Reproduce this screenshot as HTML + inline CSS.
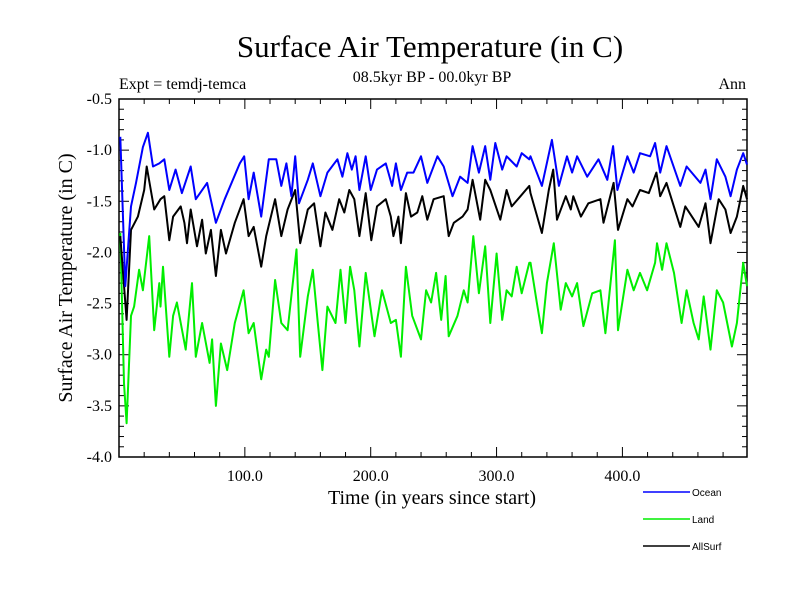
<!DOCTYPE html>
<html><head><meta charset="utf-8"><style>
body{margin:0;background:#fff}
svg{display:block;font-family:"Liberation Serif",serif}
</style></head><body>
<svg id="chart" width="800" height="600" xmlns="http://www.w3.org/2000/svg">
<text x="430" y="57" font-size="31" text-anchor="middle">Surface Air Temperature (in C)</text>
<text x="432" y="82" font-size="16" text-anchor="middle">08.5kyr BP - 00.0kyr BP</text>
<text x="119" y="89" font-size="16">Expt = temdj-temca</text>
<text x="746" y="89" font-size="16" text-anchor="end">Ann</text>
<text transform="translate(72,278) rotate(-90)" font-size="20" text-anchor="middle">Surface Air Temperature (in C)</text>
<text x="432" y="504" font-size="20" text-anchor="middle">Time (in years since start)</text>
<g id="axes"></g>
<g id="series"></g>
<g id="legend"></g>
</svg>
<script>
const oceanYears=[1,5,9.5,13.5,19,23,27,32,36,40,45,50,57,61,70,77,84,96,99.5,103,107,113,119,125,129,133,137,140,143,150,154,160,165.6,173.5,177.5,181.5,185,188,191,196,200,205,212,217,220,224,229,234,240,245,253,258,265,271,277,281,286,291,295,299,304.5,308,316,320,326,327,336,344,349.5,356,360,364,372,381,388,392.6,396,404,409,414,422,426,430,435,446,451,462,466,470,475,481.8,486,491,496,499];
const oceanValues=[-0.87,-2.33,-1.55,-1.32,-0.97,-0.83,-1.16,-1.13,-1.09,-1.39,-1.19,-1.42,-1.16,-1.48,-1.32,-1.71,-1.48,-1.13,-1.06,-1.48,-1.22,-1.65,-1.09,-1.09,-1.35,-1.13,-1.45,-1.06,-1.52,-1.29,-1.13,-1.45,-1.22,-1.09,-1.26,-1.03,-1.19,-1.06,-1.39,-1.06,-1.39,-1.19,-1.13,-1.35,-1.13,-1.39,-1.22,-1.22,-1.06,-1.32,-1.06,-1.16,-1.45,-1.26,-1.32,-0.96,-1.22,-0.96,-1.29,-0.93,-1.19,-1.06,-1.16,-1.03,-1.09,-1.06,-1.35,-0.90,-1.35,-1.06,-1.22,-1.06,-1.26,-1.09,-1.29,-0.96,-1.39,-1.06,-1.22,-1.03,-1.06,-0.93,-1.22,-0.96,-1.35,-1.16,-1.32,-1.19,-1.48,-1.09,-1.26,-1.45,-1.19,-1.03,-1.14];
const allYears=[1,6,9.5,15,20,22,28,33,36,40,43,49,52,54,57,62,66,69,73,77,81,85,92,99,103,107,113,117,124,129,134,140,144,150,155,160,164,169.6,175,179,183,187,191,196,200.5,205,212,216,218,222,224,228,232,237,241,245,250,258,262,266,273,277,281,287,291,295,303,308,312,319,326,327,336,341.5,345,348,355,359,361,367,373,382.5,385,393,396.5,404,408,414,421,427,430,435,446,450,460.6,466,470,476.5,481.8,486,491,496,499];
const allValues=[-1.84,-2.66,-1.78,-1.65,-1.39,-1.16,-1.58,-1.48,-1.45,-1.88,-1.65,-1.55,-1.71,-1.91,-1.58,-1.94,-1.68,-2.01,-1.78,-2.23,-1.78,-2.01,-1.71,-1.48,-1.84,-1.75,-2.14,-1.84,-1.48,-1.84,-1.58,-1.39,-1.91,-1.58,-1.52,-1.94,-1.61,-1.78,-1.48,-1.61,-1.39,-1.48,-1.84,-1.42,-1.88,-1.55,-1.48,-1.65,-1.84,-1.65,-1.91,-1.42,-1.65,-1.61,-1.45,-1.68,-1.48,-1.45,-1.84,-1.71,-1.65,-1.58,-1.29,-1.68,-1.29,-1.39,-1.68,-1.39,-1.55,-1.45,-1.35,-1.42,-1.81,-1.39,-1.19,-1.68,-1.45,-1.58,-1.45,-1.65,-1.52,-1.48,-1.71,-1.32,-1.78,-1.48,-1.55,-1.39,-1.42,-1.22,-1.45,-1.32,-1.75,-1.55,-1.75,-1.52,-1.91,-1.48,-1.58,-1.81,-1.65,-1.35,-1.48];
const landYears=[1,4,6,9.5,12,16,19,24,28,32,33,35,40,43,46,53,58,61,66,72,74,77,81,86,92,99,103,107,113,117,119,124,129,134,141,144,150,154,158,161.6,165.6,172,176,180,183.6,187,191,196,203,209,216,220,224,228,233,240,244,248,252,256,259.5,262,269,274,277,281.5,286,291,295,300,304.5,308,312,316,320,326,327,332,336,340,345.5,351,355,360,364,369,376,382.5,386.5,394,396.5,404,409,414,419.6,426,427.5,431.5,435,441,447,451,456.6,460.6,464.6,470,475,480,487,491,496,499];
const landValues=[-1.81,-3.28,-3.67,-2.62,-2.53,-2.17,-2.37,-1.84,-2.76,-2.30,-2.53,-2.14,-3.02,-2.62,-2.49,-2.95,-2.30,-3.02,-2.69,-3.08,-2.85,-3.50,-2.89,-3.15,-2.69,-2.37,-2.79,-2.69,-3.24,-2.95,-3.02,-2.27,-2.69,-2.76,-1.97,-3.02,-2.43,-2.17,-2.69,-3.15,-2.53,-2.69,-2.17,-2.69,-2.14,-2.37,-2.92,-2.20,-2.82,-2.37,-2.69,-2.66,-3.02,-2.14,-2.62,-2.85,-2.37,-2.49,-2.20,-2.66,-2.23,-2.82,-2.62,-2.37,-2.49,-1.84,-2.40,-1.94,-2.69,-2.01,-2.66,-2.37,-2.43,-2.14,-2.40,-2.10,-2.10,-2.49,-2.79,-2.30,-1.91,-2.56,-2.30,-2.43,-2.30,-2.72,-2.40,-2.37,-2.79,-1.88,-2.76,-2.17,-2.37,-2.20,-2.37,-2.10,-1.91,-2.17,-1.91,-2.20,-2.69,-2.37,-2.69,-2.85,-2.43,-2.95,-2.37,-2.49,-2.92,-2.69,-2.10,-2.33];
const xTickValues=[100,200,300,400];
const xTickLabels=["100.0","200.0","300.0","400.0"];
const yTickValues=[-0.5,-1.0,-1.5,-2.0,-2.5,-3.0,-3.5,-4.0];
const yTickLabels=["-0.5","-1.0","-1.5","-2.0","-2.5","-3.0","-3.5","-4.0"];

const L=119,R=747,T=99,B=457,X0=0,X1=499,Y0=-4.0,Y1=-0.5;
const NS="http://www.w3.org/2000/svg";
function xs(v){return L+(v-X0)/(X1-X0)*(R-L);}
function ys(v){return B-(v-Y0)/(Y1-Y0)*(B-T);}
function mk(tag,attrs,parent){const e=document.createElementNS(NS,tag);for(const k in attrs)e.setAttribute(k,attrs[k]);parent.appendChild(e);return e;}
const axes=document.getElementById('axes');
const frame=mk('rect',{x:L,y:T,width:R-L,height:B-T,fill:'none',stroke:'#000','stroke-width':1.5},axes);


for(let v=20;v<X1;v+=20){
  const major=v%100===0, len=major?10:5;
  const t1=mk('line',{x1:xs(v),x2:xs(v),y1:B,y2:B-len,stroke:'#000'},axes);
  
  
  const t2=mk('line',{x1:xs(v),x2:xs(v),y1:T,y2:T+len,stroke:'#000'},axes);
  
  
}
xTickValues.forEach((v,i)=>{
  const t=mk('text',{x:xs(v),y:B+24,'font-size':16,'text-anchor':'middle'},axes);
  t.textContent=xTickLabels[i];
  
  
});
for(let k=-40;k<=-5;k++){
  const v=k/10, major=(k%5===0), len=major?10:5;
  const t1=mk('line',{x1:L,x2:L+len,y1:ys(v),y2:ys(v),stroke:'#000'},axes);
  
  
  const t2=mk('line',{x1:R,x2:R-len,y1:ys(v),y2:ys(v),stroke:'#000'},axes);
  
  
}
yTickValues.forEach((v,i)=>{
  const t=mk('text',{x:L-7,y:ys(v)+5,'font-size':16,'text-anchor':'end'},axes);
  t.textContent=yTickLabels[i];
  
  
});
const series=document.getElementById('series');
function draw(xsArr,vals,color,name){
  const d=xsArr.map((x,i)=>(i?'L':'M')+xs(x).toFixed(1)+','+ys(vals[i]).toFixed(1)).join('');
  const p=mk('path',{d:d,fill:'none',stroke:color,'stroke-width':2,'stroke-linejoin':'round'},series);
  
  
}
draw(landYears,landValues,'#00ee00','land-line');
draw(allYears,allValues,'#000000','allsurf-line');
draw(oceanYears,oceanValues,'#0000ff','ocean-line');
const legend=document.getElementById('legend');
[['Ocean','#0000ff',492],['Land','#00ee00',519],['AllSurf','#000000',546]].forEach(e=>{
  const l=mk('line',{x1:643,x2:690,y1:e[2],y2:e[2],stroke:e[1],'stroke-width':1.5},legend);
  
  
  const t=mk('text',{x:692,y:e[2]+4,'font-size':10,'font-family':'Liberation Sans, sans-serif'},legend);
  t.textContent=e[0];
  
  
});
</script>
</body></html>
